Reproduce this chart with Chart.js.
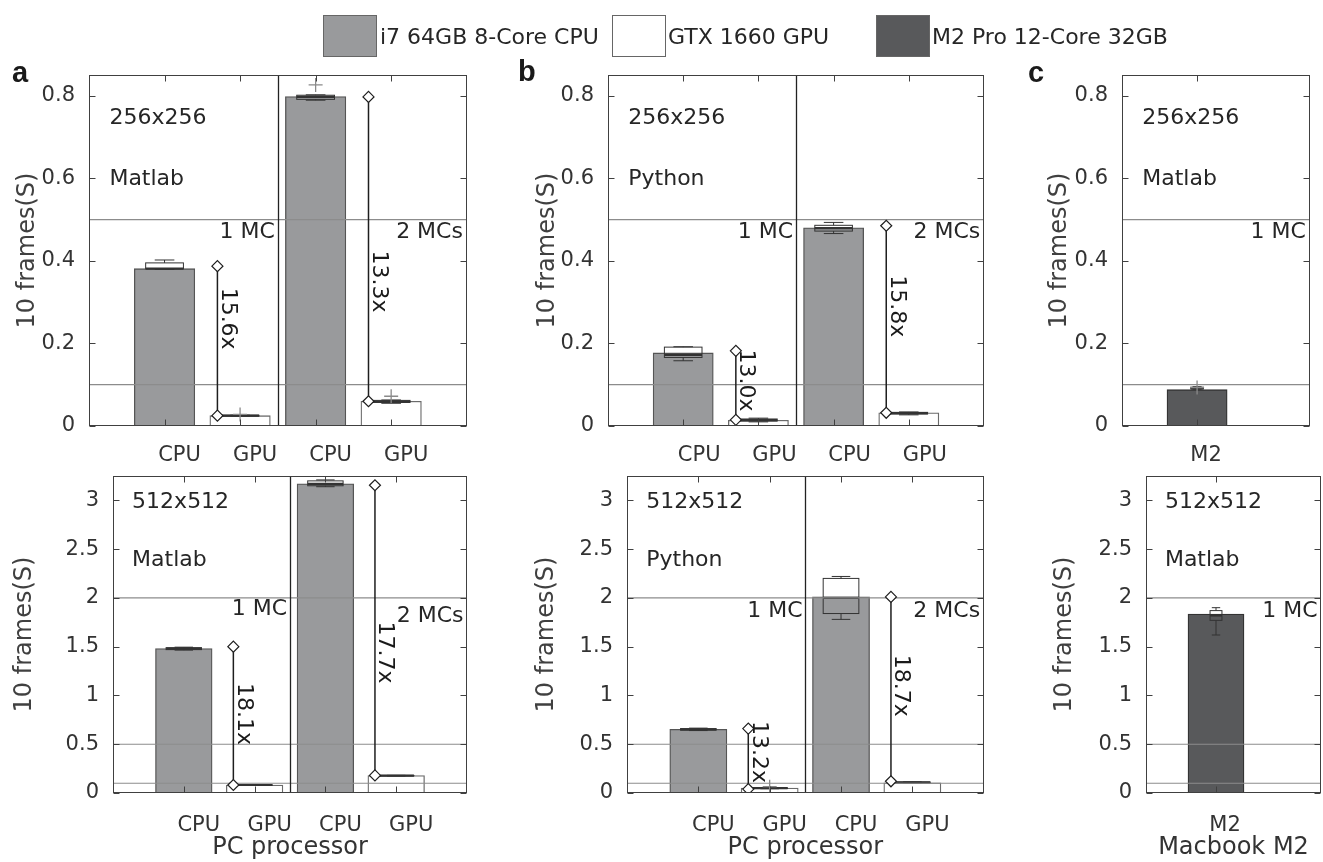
<!DOCTYPE html>
<html>
<head>
<meta charset="utf-8">
<script src="https://cdn.jsdelivr.net/npm/chart.js@4.4.0/dist/chart.umd.min.js"></script>
<style>
  body { margin: 0; background: #fff; }
  #fig { position: relative; width: 1323px; height: 862px; overflow: hidden; font-family: "DejaVu Sans", sans-serif; color: #262626; }
  #fig canvas { position: absolute; }
  .key { position: absolute; top: 15px; width: 54px; height: 42px; box-sizing: border-box; border: 1px solid #666; z-index: 2; }
  .keytext { position: absolute; top: 36px; transform: translateY(-50%); font-size: 22px; white-space: nowrap; z-index: 2; }
  .tag { position: absolute; font: bold 29px "Liberation Sans", sans-serif; line-height: 29px; z-index: 2; color: #1a1a1a; }
</style>
</head>
<body>
<div id="fig">
  <div class="tag" style="left:12px; top:58px;">a</div>
  <div class="tag" style="left:518px; top:57px;">b</div>
  <div class="tag" style="left:1028px; top:58px;">c</div>
</div>
<script>
// ---- data ----
const pcSlots = ['CPU', 'GPU', 'CPU', 'GPU'];
const pcSeries = [0, 1, 0, 1];
const macSlots = ['M2'];
const macSeries = [2];
const seriesNames = ['i7 64GB 8-Core CPU', 'GTX 1660 GPU', 'M2 Pro 12-Core 32GB'];

const yTicks256 = [0, 0.2, 0.4, 0.6, 0.8];
const yTicks512 = [0, 0.5, 1, 1.5, 2, 2.5, 3];
const refLines256 = [0.5, 0.1];
const refLines512 = [2, 0.5, 0.1];

// time for 10 frames (s), one value per slot
const matlab256 = [0.381, 0.025, 0.798, 0.060];
const python256 = [0.177, 0.014, 0.480, 0.032];
const m2Matlab256 = [0.088];
const matlab512 = [1.48, 0.082, 3.17, 0.178];
const python512 = [0.652, 0.050, 2.01, 0.105];
const m2Matlab512 = [1.835];

// box plots per slot: [min, q1, median, q3, max]
const matlab256Box = [[0.379, 0.381, 0.381, 0.395, 0.402], [0.024, 0.024, 0.025, 0.026, 0.026], [0.789, 0.791, 0.797, 0.801, 0.802], [0.055, 0.057, 0.059, 0.062, 0.063]];
const python256Box = [[0.158, 0.166, 0.172, 0.191, 0.192], [0.010, 0.012, 0.014, 0.017, 0.019], [0.466, 0.472, 0.479, 0.486, 0.493], [0.027, 0.029, 0.031, 0.033, 0.034]];
const m2Matlab256Box = [[0.089, 0.090, 0.091, 0.094, 0.095]];
const matlab512Box = [[1.465, 1.470, 1.480, 1.490, 1.495], [0.079, 0.080, 0.082, 0.083, 0.084], [3.14, 3.15, 3.17, 3.20, 3.21], [0.174, 0.176, 0.178, 0.180, 0.181]];
const python512Box = [[0.640, 0.645, 0.652, 0.660, 0.665], [0.044, 0.046, 0.050, 0.052, 0.054], [1.78, 1.84, 2.00, 2.20, 2.22], [0.104, 0.106, 0.109, 0.112, 0.114]];
const m2Matlab512Box = [[1.62, 1.77, 1.82, 1.87, 1.90]];

// outliers per slot
const matlab256Out = [[], [0.028], [0.826], [0.072]];
const python256Out = [[], [], [], []];
const m2Matlab256Out = [[0.093]];
const matlab512Out = [[], [], [], []];
const python512Out = [[], [0.065], [], []];
const m2Matlab512Out = [[]];

// speed-up per MC group: label, CPU mean, GPU mean
const matlab256Speed = ['15.6x', '13.3x'];
const matlab256SpanTop = [0.387, 0.797];
const matlab256SpanLow = [0.025, 0.060];
const python256Speed = ['13.0x', '15.8x'];
const python256SpanTop = [0.182, 0.485];
const python256SpanLow = [0.015, 0.032];
const matlab512Speed = ['18.1x', '17.7x'];
const matlab512SpanTop = [1.50, 3.155];
const matlab512SpanLow = [0.082, 0.18];
const python512Speed = ['13.2x', '18.7x'];
const python512SpanTop = [0.66, 2.01];
const python512SpanLow = [0.04, 0.12];

// ---- styles ----
const seriesFill = ['#999a9c', '#ffffff', '#58595b'];
const seriesEdge = ['#555555', '#6a6a6a', '#333333'];
const ink = '#262626';

Chart.defaults.font.family = '"DejaVu Sans", sans-serif';

const panels = [
  { id: 'a256', slots: pcSlots, series: pcSeries, times: matlab256, box: matlab256Box, out: matlab256Out,
    speed: matlab256Speed, spanTop: matlab256SpanTop, spanLow: matlab256SpanLow, speedY: [0.26, 0.35],
    yTicks: yTicks256, yMax: 0.85, xMax: 5, refs: refLines256,
    size: '256x256', lang: 'Matlab', sizeY: 0.745, langY: 0.598, mcText: ['1 MC', '2 MCs'], mcX: [2.46, 4.95], mcY: [0.47, 0.47],
    canvas: [0, 55, 475, 410], plot: [89, 467, 75, 426], yTitleX: 28, labelShift: 15 },
  { id: 'b256', slots: pcSlots, series: pcSeries, times: python256, box: python256Box, out: python256Out,
    speed: python256Speed, spanTop: python256SpanTop, spanLow: python256SpanLow, speedY: [0.11, 0.29],
    yTicks: yTicks256, yMax: 0.85, xMax: 5, refs: refLines256,
    size: '256x256', lang: 'Python', sizeY: 0.745, langY: 0.598, mcText: ['1 MC', '2 MCs'], mcX: [2.46, 4.95], mcY: [0.47, 0.47],
    canvas: [528, 55, 464, 410], plot: [608, 984, 75, 426], yTitleX: 548, labelShift: 16 },
  { id: 'c256', slots: macSlots, series: macSeries, times: m2Matlab256, box: m2Matlab256Box, out: m2Matlab256Out,
    speed: [], spanTop: [], spanLow: [], speedY: [],
    yTicks: yTicks256, yMax: 0.85, xMax: 2.5, refs: refLines256,
    size: '256x256', lang: 'Matlab', sizeY: 0.745, langY: 0.598, mcText: ['1 MC'], mcX: [2.45], mcY: [0.47],
    canvas: [1040, 55, 278, 410], plot: [1122, 1310, 75, 426], yTitleX: 1060, labelShift: 9 },
  { id: 'a512', slots: pcSlots, series: pcSeries, times: matlab512, box: matlab512Box, out: matlab512Out,
    speed: matlab512Speed, spanTop: matlab512SpanTop, spanLow: matlab512SpanLow, speedY: [0.81, 1.44],
    yTicks: yTicks512, yMax: 3.25, xMax: 5, refs: refLines512,
    size: '512x512', lang: 'Matlab', sizeY: 2.98, langY: 2.39, mcText: ['1 MC', '2 MCs'], mcX: [2.46, 4.95], mcY: [1.88, 1.81],
    canvas: [0, 456, 475, 406], plot: [113, 467, 476, 793], yTitleX: 25, labelShift: 15, xTitle: 'PC processor' },
  { id: 'b512', slots: pcSlots, series: pcSeries, times: python512, box: python512Box, out: python512Out,
    speed: python512Speed, spanTop: python512SpanTop, spanLow: python512SpanLow, speedY: [0.42, 1.10],
    yTicks: yTicks512, yMax: 3.25, xMax: 5, refs: refLines512,
    size: '512x512', lang: 'Python', sizeY: 2.98, langY: 2.39, mcText: ['1 MC', '2 MCs'], mcX: [2.46, 4.95], mcY: [1.86, 1.86],
    canvas: [528, 456, 464, 406], plot: [627, 984, 476, 793], yTitleX: 547, labelShift: 15, xTitle: 'PC processor' },
  { id: 'c512', slots: macSlots, series: macSeries, times: m2Matlab512, box: m2Matlab512Box, out: m2Matlab512Out,
    speed: [], spanTop: [], spanLow: [], speedY: [],
    yTicks: yTicks512, yMax: 3.25, xMax: 2.5, refs: refLines512,
    size: '512x512', lang: 'Matlab', sizeY: 2.98, langY: 2.39, mcText: ['1 MC'], mcX: [2.45], mcY: [1.86],
    canvas: [1045, 456, 278, 406], plot: [1146, 1321, 476, 793], yTitleX: 1065, labelShift: 9, xTitle: 'Macbook M2' }
];

// legend
const fig = document.getElementById('fig');
const keyLeft = [323, 612, 876];
const textLeft = [380, 668, 932];
seriesNames.forEach((name, i) => {
  const box = document.createElement('div');
  box.className = 'key';
  box.style.left = keyLeft[i] + 'px';
  box.style.background = seriesFill[i];
  fig.appendChild(box);
  const txt = document.createElement('div');
  txt.className = 'keytext';
  txt.style.left = textLeft[i] + 'px';
  txt.textContent = name;
  fig.appendChild(txt);
});

function layoutFor(p) {
  const [cl, ct, cw, ch] = p.canvas;
  const [pl, pr, pt, pb] = p.plot;
  const yLeft = p.yTitleX - 12;
  const xBottom = p.xTitle ? pb + 67 : ct + ch;
  return {
    padding: { left: yLeft - cl, top: pt - ct, right: cl + cw - pr, bottom: ct + ch - xBottom },
    yWidth: pl - yLeft,
    xHeight: xBottom - pb,
    barPx: 0.8 * (pr - pl) / p.xMax
  };
}

// slots (1-based) holding the GPU bar of each MC group
function gpuSlots(p) {
  return p.series.map((s, i) => s === 1 ? i + 1 : null).filter(v => v !== null);
}

function buildDatasets(p, lay) {
  const ds = [];
  const gpus = gpuSlots(p);
  p.speed.forEach((lab, k) => {
    const gx = gpus[k] - 0.3;
    ds.push({
      type: 'line',
      data: [{ x: gx, y: p.spanLow[k] }, { x: gx, y: p.spanTop[k] }],
      borderColor: '#1e1e1e', borderWidth: 1.5,
      pointStyle: 'rectRot', pointRadius: 5.5, pointBackgroundColor: '#fff',
      pointBorderColor: '#1e1e1e', pointBorderWidth: 1.2
    });
  });
  const outPts = [];
  p.out.forEach((arr, i) => arr.forEach(v => outPts.push({ x: i + 1, y: v })));
  ds.push({
    type: 'line', showLine: false, data: outPts,
    pointStyle: 'cross', pointRadius: 7, pointBorderColor: '#8a8a8a', pointBorderWidth: 1.3
  });
  p.refs.forEach(r => {
    ds.push({
      type: 'line', data: [{ x: 0, y: r }, { x: p.xMax, y: r }],
      borderColor: '#8c8c8c', borderWidth: 1.2, pointRadius: 0
    });
  });
  [0, 1, 2].forEach(s => {
    const pts = p.times.map((v, i) => p.series[i] === s ? { x: i + 1, y: v } : null).filter(Boolean);
    if (!pts.length) return;
    ds.push({
      type: 'bar', label: seriesNames[s], data: pts,
      backgroundColor: seriesFill[s], borderColor: seriesEdge[s], borderWidth: 1.3,
      borderSkipped: false, grouped: false, barThickness: lay.barPx
    });
  });
  return ds;
}

function decor(p) {
  const mac = p.slots.length === 1;
  const boxW = mac ? 0.17 : 0.5;
  const capW = mac ? 0.12 : 0.26;
  return {
    id: 'decor',
    afterDatasetDraw(chart, args) {
      const first = chart.data.datasets.findIndex(d => d.type === 'bar');
      if (args.index !== first) return;
      const { ctx, scales: { x, y } } = chart;
      const hw = (x.getPixelForValue(boxW) - x.getPixelForValue(0)) / 2;
      const cw = (x.getPixelForValue(capW) - x.getPixelForValue(0)) / 2;
      ctx.save();
      ctx.strokeStyle = '#333';
      p.box.forEach((b, i) => {
        const cx = x.getPixelForValue(i + 1);
        const [lo, q1, med, q3, hi] = b.map(v => y.getPixelForValue(v));
        ctx.lineWidth = 1;
        ctx.beginPath();
        ctx.moveTo(cx, q3); ctx.lineTo(cx, hi);
        ctx.moveTo(cx - cw, hi); ctx.lineTo(cx + cw, hi);
        ctx.moveTo(cx, q1); ctx.lineTo(cx, lo);
        ctx.moveTo(cx - cw, lo); ctx.lineTo(cx + cw, lo);
        ctx.stroke();
        ctx.strokeRect(cx - hw, q3, 2 * hw, q1 - q3);
        ctx.lineWidth = 2.2;
        ctx.beginPath();
        ctx.moveTo(cx - hw, med); ctx.lineTo(cx + hw, med);
        ctx.stroke();
      });
      ctx.restore();
    },
    afterDatasetsDraw(chart) {
      const { ctx, chartArea: a, scales: { x, y } } = chart;
      const px = v => x.getPixelForValue(v);
      const py = v => y.getPixelForValue(v);
      ctx.save();
      // divider between the 1 MC and 2 MC groups
      if (!mac) {
        const dx = Math.round(px(2.5)) + 0.5;
        ctx.strokeStyle = '#222'; ctx.lineWidth = 1.3;
        ctx.beginPath(); ctx.moveTo(dx, a.top); ctx.lineTo(dx, a.bottom); ctx.stroke();
      }
      ctx.fillStyle = ink;
      ctx.font = '22px "DejaVu Sans"';
      ctx.textBaseline = 'middle';
      ctx.textAlign = 'left';
      ctx.fillText(p.size, px(0.27), py(p.sizeY));
      ctx.fillText(p.lang, px(0.27), py(p.langY));
      ctx.textAlign = 'right';
      p.mcText.forEach((t, k) => ctx.fillText(t, px(p.mcX[k]), py(p.mcY[k])));
      // speed-up labels, rotated
      const gpus = gpuSlots(p);
      ctx.textAlign = 'center';
      ctx.fillStyle = '#1a1a1a';
      p.speed.forEach((t, k) => {
        ctx.save();
        ctx.translate(px(gpus[k] - 0.3) + 10, py(p.speedY[k]));
        ctx.rotate(Math.PI / 2);
        ctx.fillText(t, 0, 0);
        ctx.restore();
      });
      // axes box with inward ticks
      const L = Math.round(a.left) + 0.5, R = Math.round(a.right) - 0.5;
      const T = Math.round(a.top) + 0.5, B = Math.round(a.bottom) - 0.5;
      ctx.strokeStyle = '#404040'; ctx.lineWidth = 1;
      ctx.strokeRect(L, T, R - L, B - T);
      ctx.beginPath();
      y.ticks.forEach(t => {
        const ty = Math.round(py(t.value)) + 0.5;
        ctx.moveTo(L, ty); ctx.lineTo(L + 6, ty);
        ctx.moveTo(R, ty); ctx.lineTo(R - 6, ty);
      });
      x.ticks.forEach(t => {
        const tx = Math.round(px(t.value)) + 0.5;
        ctx.moveTo(tx, B); ctx.lineTo(tx, B - 6);
        ctx.moveTo(tx, T); ctx.lineTo(tx, T + 6);
      });
      ctx.stroke();
      ctx.restore();
    }
  };
}

panels.forEach(p => {
  const lay = layoutFor(p);
  const cv = document.createElement('canvas');
  cv.width = p.canvas[2];
  cv.height = p.canvas[3];
  cv.style.left = p.canvas[0] + 'px';
  cv.style.top = p.canvas[1] + 'px';
  fig.appendChild(cv);

  new Chart(cv, {
    type: 'bar',
    data: { datasets: buildDatasets(p, lay) },
    options: {
      responsive: false,
      animation: false,
      devicePixelRatio: 1,
      layout: { padding: lay.padding },
      plugins: { legend: { display: false }, tooltip: { enabled: false } },
      scales: {
        x: {
          type: 'linear', min: 0, max: p.xMax, offset: false,
          grid: { display: false }, border: { display: false },
          afterBuildTicks: s => { s.ticks = p.slots.map((_, i) => ({ value: i + 1 })); },
          afterFit: s => { s.height = lay.xHeight; },
          ticks: {
            autoSkip: false, maxRotation: 0, padding: p.xTitle ? 12 : 9, labelOffset: p.labelShift,
            color: '#333', font: { size: 21 },
            callback: v => p.slots[v - 1]
          },
          title: { display: !!p.xTitle, text: p.xTitle || '', color: '#333', font: { size: 24, lineHeight: 1 }, padding: 0 }
        },
        y: {
          min: 0, max: p.yMax,
          grid: { display: false }, border: { display: false },
          afterBuildTicks: s => { s.ticks = p.yTicks.map(v => ({ value: v })); },
          afterFit: s => { s.width = lay.yWidth; },
          ticks: { padding: 6, color: '#333', font: { size: 21 }, callback: v => String(v) },
          title: { display: true, text: '10 frames(S)', color: '#404040', font: { size: 24, lineHeight: 1 }, padding: 0 }
        }
      }
    },
    plugins: [decor(p)]
  });
});
</script>
</body>
</html>
